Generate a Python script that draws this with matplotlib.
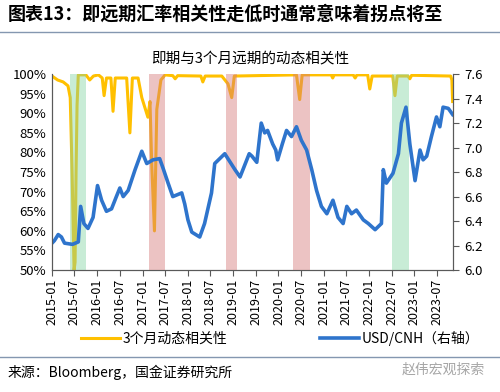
import matplotlib
matplotlib.use("Agg")
import matplotlib.pyplot as plt
import matplotlib.dates as mdates
import matplotlib.ticker as mticker
import pandas as pd

plt.rcParams['font.family'] = ['Noto Sans CJK SC', 'DejaVu Sans']

# 3个月动态相关性 (%)
corr_dates = ['2015-01-01', '2015-02-15', '2015-04-01', '2015-05-10', '2015-05-28',
              '2015-06-12', '2015-06-28', '2015-07-06', '2015-07-14', '2015-07-22',
              '2015-08-01', '2015-10-01', '2015-11-01', '2015-12-01', '2016-01-10',
              '2016-02-10', '2016-02-25', '2016-03-15', '2016-04-20', '2016-05-07',
              '2016-05-25', '2016-08-25', '2016-09-20', '2016-10-10', '2016-11-25',
              '2016-12-25', '2017-02-12', '2017-03-01', '2017-03-15', '2017-04-06',
              '2017-04-25', '2017-05-28', '2017-07-01', '2017-09-01', '2017-09-20',
              '2017-10-10', '2018-04-15', '2018-05-01', '2018-05-20', '2018-10-01',
              '2018-11-20', '2018-12-20', '2019-01-10', '2020-05-25', '2020-06-20',
              '2020-07-10', '2021-03-01', '2021-03-13', '2021-03-25', '2021-08-25',
              '2021-09-10', '2021-09-25', '2021-12-20', '2022-01-06', '2022-01-25',
              '2022-07-10', '2022-07-28', '2022-08-15', '2022-11-10', '2022-11-25',
              '2022-12-10', '2023-10-20', '2023-10-30', '2023-11-05']
corr_vals = [99.5, 98.5, 98.0, 97.0, 94.0,
             75.0, 50.0, 52.0, 75.0, 92.0,
             99.8, 99.8, 98.5, 99.5, 99.8,
             99.0, 94.5, 99.0, 99.0, 90.5,
             99.0, 99.0, 85.0, 99.0, 99.0,
             94.0, 89.0, 93.0, 77.0, 60.0,
             91.0, 98.5, 99.8, 99.6, 98.8,
             99.6, 99.5, 98.0, 99.5, 99.5,
             97.5, 94.0, 99.5, 99.8, 93.5,
             99.8, 99.8, 99.0, 99.8, 99.8,
             99.0, 99.8, 99.8, 96.2, 99.5,
             99.5, 94.5, 99.5, 99.5, 98.8,
             99.7, 99.5, 98.5, 93.0]

# USD/CNH (右轴)
fx_dates = ['2015-01-01', '2015-01-20', '2015-02-20', '2015-03-18', '2015-04-12',
            '2015-06-15', '2015-08-01', '2015-08-20', '2015-09-15', '2015-10-18',
            '2015-11-28', '2016-01-03', '2016-02-05', '2016-03-15', '2016-04-25',
            '2016-06-03', '2016-07-01', '2016-07-28', '2016-09-06', '2016-11-01',
            '2016-12-25', '2017-02-03', '2017-03-25', '2017-05-18', '2017-06-15',
            '2017-07-25', '2017-09-01', '2017-11-12', '2017-12-06', '2018-01-01',
            '2018-02-01', '2018-04-06', '2018-05-15', '2018-07-10', '2018-08-05',
            '2018-10-25', '2019-01-15', '2019-02-25', '2019-05-10', '2019-06-01',
            '2019-07-10', '2019-08-15', '2019-09-12', '2019-10-05', '2019-11-15',
            '2019-12-10', '2019-12-25', '2020-02-01', '2020-03-06', '2020-04-15',
            '2020-05-25', '2020-07-03', '2020-08-15', '2020-09-25', '2020-11-03',
            '2020-12-12', '2021-01-25', '2021-03-15', '2021-04-25', '2021-06-05',
            '2021-07-05', '2021-08-12', '2021-09-20', '2021-11-15', '2021-12-25',
            '2022-02-18', '2022-04-10', '2022-04-25', '2022-05-20', '2022-07-12',
            '2022-08-25', '2022-09-18', '2022-10-25', '2022-11-25', '2023-01-06',
            '2023-02-15', '2023-03-12', '2023-04-10', '2023-05-18', '2023-06-28',
            '2023-07-25', '2023-08-20', '2023-10-01', '2023-11-05']
fx_vals = [6.22, 6.24, 6.29, 6.27, 6.22,
           6.21, 6.23, 6.52, 6.38, 6.34,
           6.43, 6.69, 6.57, 6.48, 6.50,
           6.60, 6.67, 6.60, 6.65, 6.82,
           6.97, 6.87, 6.90, 6.91, 6.83,
           6.71, 6.60, 6.63, 6.54, 6.41,
           6.31, 6.27, 6.38, 6.63, 6.87,
           6.95, 6.82, 6.76, 6.95, 6.93,
           6.88, 7.20, 7.12, 7.14, 7.03,
           6.98, 6.90, 7.03, 7.14, 7.09,
           7.17, 7.06, 6.98, 6.82, 6.65,
           6.52, 6.46, 6.57, 6.43, 6.38,
           6.52, 6.46, 6.49, 6.41, 6.38,
           6.33, 6.38, 6.82, 6.71, 6.79,
           6.95, 7.20, 7.33, 7.03, 6.73,
           6.98, 6.90, 6.93, 7.09, 7.25,
           7.17, 7.33, 7.32, 7.27]

# shaded periods
red_periods = [('2017-02-20', '2017-07-01'), ('2018-11-03', '2019-02-01'),
               ('2020-04-25', '2020-09-10')]
green_periods = [('2015-05-25', '2015-10-01'), ('2022-07-03', '2022-11-18')]

corr_x = pd.to_datetime(corr_dates)
corr_y = [v / 100 for v in corr_vals]
fx_x = pd.to_datetime(fx_dates)

fig = plt.figure(figsize=(5, 3.92), dpi=100)
ax = fig.add_axes([0.104, 0.311, 0.802, 0.5])
ax2 = ax.twinx()

ax.plot(corr_x, corr_y, color='#FFC000', lw=2.2, zorder=2, label='3个月动态相关性')
for a, b in red_periods:
    ax.axvspan(pd.Timestamp(a), pd.Timestamp(b), color='#D77A7A', alpha=0.45, lw=0, zorder=3)
for a, b in green_periods:
    ax.axvspan(pd.Timestamp(a), pd.Timestamp(b), color='#85D5A4', alpha=0.45, lw=0, zorder=3)

ax2.plot(fx_x, fx_vals, color='#2E74CC', lw=2.6, label='USD/CNH（右轴）')

ax.set_xlim(pd.Timestamp('2015-01-01'), pd.Timestamp('2023-11-08'))
ax.set_ylim(0.5, 1.0)
ax.yaxis.set_major_locator(mticker.MultipleLocator(0.05))
ax.yaxis.set_major_formatter(mticker.PercentFormatter(1.0, decimals=0))
ax2.set_ylim(6.0, 7.6)
ax2.yaxis.set_major_locator(mticker.MultipleLocator(0.2))
ax2.yaxis.set_major_formatter(mticker.FormatStrFormatter('%.1f'))

ax.xaxis.set_major_locator(mdates.MonthLocator(bymonth=[1, 7]))
ax.xaxis.set_major_formatter(mdates.DateFormatter('%Y-%m'))
for lab in ax.get_xticklabels():
    lab.set_rotation(90)

spine_c = '#595959'
for a_ in (ax, ax2):
    a_.spines['top'].set_visible(False)
    for s in ('left', 'right', 'bottom'):
        a_.spines[s].set_color(spine_c)
ax.tick_params(axis='x', direction='out', length=4, color=spine_c, labelsize=9, pad=2)
ax.tick_params(axis='y', length=0, labelsize=9.5, pad=4)
ax2.tick_params(axis='y', direction='out', length=4, color=spine_c, labelsize=9.5, pad=4)

h1, l1 = ax.get_legend_handles_labels()
h2, l2 = ax2.get_legend_handles_labels()
fig.legend(h1 + h2, l1 + l2, loc='center', bbox_to_anchor=(0.56, 1 - 338 / 392),
           ncol=2, frameon=False, fontsize=10, handlelength=2.8, columnspacing=6.7,
           handletextpad=0.2)

fig.text(0.016, 1 - 14 / 392, '图表13：即远期汇率相关性走低时通常意味着拐点将至',
         fontsize=13, fontweight='bold', va='center', ha='left')
fig.add_artist(plt.Line2D([0, 1], [1 - 32 / 392, 1 - 32 / 392], color='#8497B0', lw=1))
fig.text(0.5, 1 - 58 / 392, '即期与3个月远期的动态相关性', fontsize=10.5,
         va='center', ha='center')
fig.add_artist(plt.Line2D([0, 1], [1 - 357 / 392, 1 - 357 / 392], color='#8497B0', lw=1))
fig.text(0.016, 1 - 372 / 392, '来源：Bloomberg，国金证券研究所', fontsize=10,
         va='center', ha='left')
fig.text(0.97, 1 - 370 / 392, '赵伟宏观探索', fontsize=10, color='#A6A6A6',
         va='center', ha='right')

fig.savefig('out.png', dpi=100)
